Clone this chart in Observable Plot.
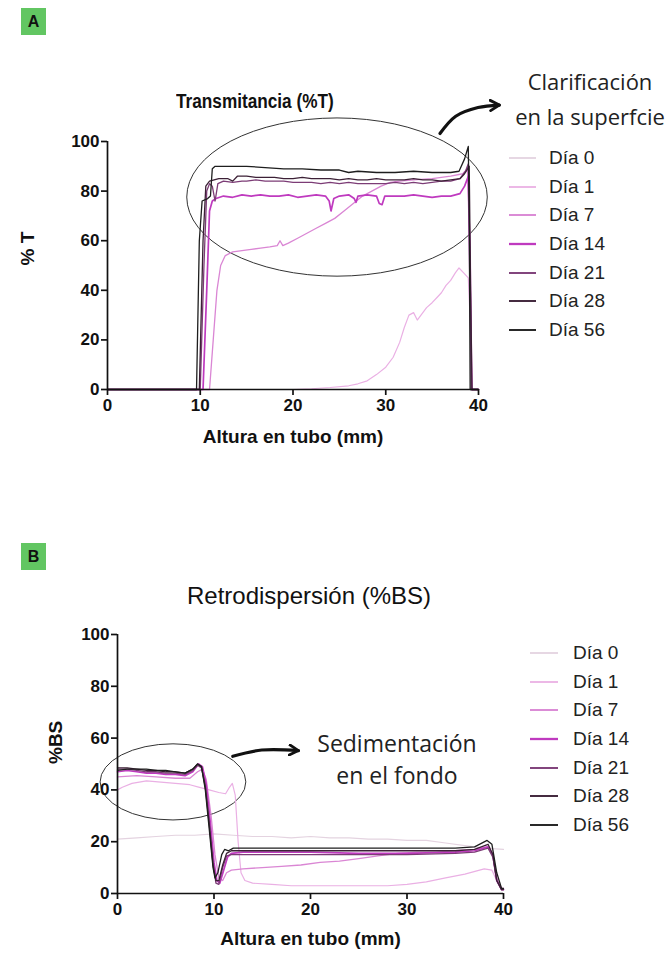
<!DOCTYPE html>
<html>
<head>
<meta charset="utf-8">
<script src="https://cdn.jsdelivr.net/npm/d3@7"></script>
<script src="https://cdn.jsdelivr.net/npm/@observablehq/plot@0.6"></script>
<style>
  body { margin: 0; background: #fff; }
  #root { position: relative; width: 670px; height: 956px; overflow: hidden; font-family: "Liberation Sans", Arial, sans-serif; color: #111; }
  .tag { position: absolute; width: 25px; height: 27px; background: #62c662; font-weight: bold; font-size: 16px; text-align: center; line-height: 27px; }
  .title { position: absolute; white-space: nowrap; transform-origin: 0 0; }
  .anno { position: absolute; white-space: nowrap; transform: translateX(-50%); font-family: "Open Sans", "Noto Sans", sans-serif; color: #222; text-align: center; }
  .legend { position: absolute; }
  .legend .item { display: flex; align-items: center; height: 28.6px; color: #222; }
</style>
</head>
<body>
<div id="root"></div>
<script>
// ---------- DATA ----------
const days = ["Día 0", "Día 1", "Día 7", "Día 14", "Día 21", "Día 28", "Día 56"];
const dayColors = ["#e4d3e0", "#eab0e4", "#da86d4", "#bf3abf", "#7c3c76", "#3c2036", "#1e1e1e"];
const dayWidths = [1.2, 1.2, 1.3, 1.7, 1.3, 1.3, 1.3];
const xTicks = [0, 10, 20, 30, 40];
const yTicks = [0, 20, 40, 60, 80, 100];

// Panel A: Transmitancia (%T) vs altura en tubo (mm)
const tDay0 = [[0, 0], [40, 0]];
const tDay1 = [[0, 0], [20, 0], [22, 0.3], [24, 0.8], [26, 1.5], [27, 2.3], [28, 3.5], [29, 6], [30, 9], [30.8, 13], [31.5, 19], [32, 25], [32.5, 30], [33, 31], [33.4, 28], [33.8, 30], [34.4, 33], [35, 35], [35.5, 37], [36, 39], [36.5, 42], [37, 44], [37.5, 47], [37.9, 49], [38.4, 47], [38.9, 45], [39.2, 20], [39.35, 0], [40, 0]];
const tDay7 = [[0, 0], [11.0, 0], [11.4, 20], [11.8, 40], [12.2, 50], [12.7, 54], [13.5, 55.5], [14.5, 56], [15.5, 56.5], [16.5, 57], [17.5, 57.5], [18.3, 58], [18.6, 60], [18.9, 58], [19.5, 59], [20.5, 61], [21.5, 63], [22.5, 65], [23.5, 67], [24.5, 69], [25.5, 72], [26.5, 75], [27.5, 78], [28.5, 80], [29.5, 82], [30.5, 83.5], [31.5, 84], [33, 84.5], [35, 85], [37, 86], [38.3, 87], [38.8, 89], [39.1, 60], [39.3, 0], [40, 0]];
const tDay14 = [[0, 0], [10.3, 0], [10.7, 40], [11.0, 72], [11.3, 76], [11.7, 77], [12.5, 78], [13.5, 77.5], [14.5, 78.5], [15.5, 78], [16.5, 78.5], [17.5, 78], [18.5, 78], [19.5, 78.5], [20.5, 77.5], [21.5, 78], [22.5, 78.5], [23.5, 78], [23.9, 76], [24.1, 72], [24.4, 77], [25, 78], [26, 78.5], [26.6, 77], [26.8, 75.5], [27, 78], [28, 78.5], [29, 78], [29.3, 75], [29.6, 74.5], [29.9, 78], [31, 78], [32, 78], [33, 78.5], [34, 78], [35, 77.5], [36, 78], [37, 78], [38, 79], [38.5, 82], [38.9, 86], [39.1, 40], [39.25, 0], [40, 0]];
const tDay21 = [[0, 0], [10.0, 0], [10.4, 50], [10.7, 80], [11.0, 83], [11.3, 82], [11.6, 76], [11.9, 83], [12.5, 84], [13.5, 83.5], [14.5, 84], [15, 84], [16, 84.5], [17, 84], [18, 84], [19, 84], [20, 83.5], [21, 83.5], [22, 83.5], [23, 83], [24, 83.5], [25, 83], [26, 83.5], [27, 83], [28, 83], [29, 83], [30, 83], [31, 83.5], [32, 83], [33, 83.5], [34, 83], [35, 83.5], [36, 84], [37, 84], [38, 85], [38.6, 88], [38.9, 91], [39.1, 50], [39.25, 0], [40, 0]];
const tDay28 = [[0, 0], [9.9, 0], [10.3, 60], [10.6, 82], [11, 84], [12, 85], [13, 85], [13.5, 84], [14, 86], [15, 86], [16, 85.5], [17, 85.5], [18, 85.5], [19, 85], [20, 85], [21, 85.5], [22, 85], [23, 85], [24, 85], [25, 84.5], [26, 85], [27, 84.5], [28, 84.5], [29, 85], [30, 84.5], [31, 84.5], [32, 84.5], [33, 85], [34, 84.5], [35, 84.5], [36, 84], [37, 84.5], [38, 85], [38.5, 87], [39, 90], [39.15, 40], [39.3, 0], [40, 0]];
const tDay56 = [[0, 0], [9.6, 0], [9.9, 60], [10.2, 76], [10.8, 77], [11.1, 78], [11.3, 89], [11.6, 90], [13, 90], [15, 90], [17, 89.5], [19, 89], [21, 89], [23, 88.5], [25, 88.5], [26, 87.5], [27, 88], [29, 87.5], [31, 87.5], [33, 88], [35, 87.5], [37, 87.5], [37.9, 88], [38.5, 93], [38.9, 98], [39.0, 70], [39.1, 0], [40, 0]];

// Panel B: Retrodispersión (%BS) vs altura en tubo (mm)
const bDay0 = [[0, 21], [2, 21.5], [4, 22], [6, 22.5], [8, 22.5], [10, 23], [12, 22.5], [14, 22], [16, 22], [18, 21.5], [20, 22], [22, 21.5], [24, 21.5], [26, 21], [28, 21], [30, 20.5], [32, 20.5], [34, 19.5], [36, 18.5], [38, 17.5], [40, 17]];
const bDay1 = [[0, 40], [0.5, 41], [1.5, 42.5], [3, 43.5], [4.5, 43], [6, 42.5], [7.5, 42], [8.5, 41], [9.5, 40], [10.5, 39], [11.2, 38.5], [11.6, 41], [11.9, 42.5], [12.2, 38], [12.5, 20], [12.8, 8], [13.2, 5], [14, 4], [16, 3.5], [18, 3], [20, 3], [22, 3], [24, 3], [26, 3], [28, 3], [30, 3.5], [32, 4.5], [34, 6], [36, 7.5], [38, 9.5], [38.8, 9], [39.3, 5], [39.8, 2], [40, 2]];
const bDay7 = [[0, 45], [2, 45.5], [4, 45], [6, 44.5], [7.5, 44.5], [8.3, 47], [8.8, 48], [9.2, 44], [9.7, 30], [10.1, 15], [10.5, 6], [10.9, 5], [11.3, 8], [11.8, 9], [13, 9.5], [15, 10], [17, 10.5], [19, 11], [21, 12], [23, 12.5], [25, 13.5], [27, 14.5], [29, 15.5], [31, 16], [33, 16], [35, 16.5], [37, 17], [38.3, 18], [38.8, 16], [39.3, 6], [39.8, 2], [40, 2]];
const bDay14 = [[0, 47], [1, 47.5], [2, 47], [3, 46.5], [4, 46.5], [5, 46], [6, 46], [7, 45.5], [7.8, 47], [8.4, 50], [8.8, 49], [9.2, 42], [9.6, 28], [10, 12], [10.3, 5], [10.6, 4], [11, 9], [11.4, 14], [11.8, 15.5], [13, 16], [15, 16], [20, 16], [25, 15.5], [30, 15.5], [35, 16], [37, 16.5], [38.4, 18], [38.9, 15], [39.3, 5], [39.8, 1.5], [40, 1.5]];
const bDay21 = [[0, 48], [1, 48], [2, 47.5], [3, 47], [4, 47], [5, 46.5], [6, 46.5], [7, 46], [7.8, 47.5], [8.3, 49.5], [8.7, 48.5], [9.1, 42], [9.5, 28], [9.9, 12], [10.2, 4], [10.5, 3.5], [10.9, 10], [11.3, 14.5], [11.8, 15], [13, 15], [20, 15], [25, 15], [30, 15], [35, 15.5], [37, 16], [38.4, 17.5], [38.9, 14], [39.3, 5], [39.8, 1.5], [40, 1.5]];
const bDay28 = [[0, 48.5], [1, 48.5], [2, 48], [3, 47.5], [4, 47.5], [5, 47], [6, 47], [7, 46.5], [7.8, 48], [8.3, 50], [8.7, 49], [9.1, 41], [9.5, 27], [9.9, 11], [10.2, 5], [10.5, 5], [10.9, 11], [11.3, 15.5], [11.8, 16.5], [13, 16.5], [20, 16.5], [25, 16.5], [30, 16.5], [35, 16.5], [37, 17], [38.4, 19], [38.9, 15], [39.3, 5], [39.8, 1.5], [40, 1.5]];
const bDay56 = [[0, 47.5], [1, 48], [2, 48], [3, 48], [4, 47.5], [5, 47.5], [6, 47], [7, 46.5], [7.8, 48], [8.3, 50], [8.7, 49], [9.1, 40], [9.5, 25], [9.9, 10], [10.1, 6], [10.4, 8], [10.8, 15], [11.1, 17], [11.5, 16.5], [12, 17.5], [15, 17.5], [20, 17.5], [25, 17.5], [30, 17.5], [35, 17.5], [37, 18], [38.3, 20.5], [38.8, 19], [39.3, 8], [39.8, 2], [40, 2]];

const tSeries = [tDay0, tDay1, tDay7, tDay14, tDay21, tDay28, tDay56];
const bSeries = [bDay0, bDay1, bDay7, bDay14, bDay21, bDay28, bDay56];

// ---------- HELPERS ----------
const toRows = (series) => series.flatMap((pts, i) => pts.map(([mm, v]) => ({day: days[i], mm, v})));
const root = document.getElementById("root");

function el(tag, cls, style, text) {
  const e = document.createElement(tag);
  if (cls) e.className = cls;
  Object.assign(e.style, style || {});
  if (text != null) e.textContent = text;
  root.appendChild(e);
  return e;
}

function centeredTitle(text, cx, top, style, scaleX) {
  const e = el("div", "title", Object.assign({left: "0px", top: top + "px"}, style), text);
  const w = e.getBoundingClientRect().width;
  e.style.left = (cx - w * scaleX / 2) + "px";
  e.style.transform = `scaleX(${scaleX})`;
  return e;
}

function annotation(ell, arrowPts, id) {
  return (index, {x, y}) => {
    const g = d3.create("svg:g");
    g.append("defs").append("marker").attr("id", id).attr("viewBox", "0 0 10 10").attr("refX", 8).attr("refY", 5)
      .attr("markerWidth", 4).attr("markerHeight", 4).attr("orient", "auto")
      .append("path").attr("d", "M1,1 L8,5 L1,9").attr("fill", "none").attr("stroke", "#111").attr("stroke-width", 2.2)
      .attr("stroke-linecap", "round").attr("stroke-linejoin", "round");
    g.append("ellipse")
      .attr("cx", x(ell.cx)).attr("cy", y(ell.cy))
      .attr("rx", Math.abs(x(ell.cx + ell.rx) - x(ell.cx)))
      .attr("ry", Math.abs(y(ell.cy + ell.ry) - y(ell.cy)))
      .attr("fill", "none").attr("stroke", "#333").attr("stroke-width", 1);
    const line = d3.line().x(d => x(d[0])).y(d => y(d[1])).curve(d3.curveCatmullRom);
    g.append("path").attr("d", line(arrowPts)).attr("fill", "none").attr("stroke", "#111")
      .attr("stroke-width", 3.2).attr("stroke-linecap", "round").attr("marker-end", `url(#${id})`);
    return g.node();
  };
}

function makePlot({series, top, height, marginTop, marginBottom, marginLeft, marginRight, yLabel, yLabelDx, xLabelDy, ell, arrowPts, id}) {
  const rows = toRows(series);
  const plot = Plot.plot({
    width: 670,
    height,
    marginTop, marginBottom, marginLeft, marginRight,
    style: {background: "transparent", fontFamily: "'Liberation Sans', Arial, sans-serif", color: "#111", overflow: "visible"},
    x: {domain: [0, 40]},
    y: {domain: [0, 100]},
    color: {domain: days, range: dayColors},
    marks: [
      annotation(ell, arrowPts, id),
      ...days.map((d, i) => Plot.line(rows.filter(r => r.day === d), {x: "mm", y: "v", stroke: dayColors[i], strokeWidth: dayWidths[i], strokeLinejoin: "round"})),
      Plot.ruleY([0], {stroke: "#111", strokeWidth: 1.7}),
      Plot.ruleX([0], {stroke: "#111", strokeWidth: 1.7}),
      Plot.axisX({ticks: xTicks, tickSize: 6, tickPadding: 3, fontSize: 17, fontWeight: "bold", strokeWidth: 1.7, label: null, tickFormat: d => d}),
      Plot.axisY({ticks: yTicks, tickSize: 6, tickPadding: 2, fontSize: 17, fontWeight: "bold", strokeWidth: 1.7, label: null, tickFormat: d => d}),
      Plot.text(["Altura en tubo (mm)"], {frameAnchor: "bottom", dy: xLabelDy, fontSize: 19, fontWeight: "bold", fill: "#111"}),
      Plot.text([yLabel], {frameAnchor: "left", dx: yLabelDx, rotate: -90, fontSize: 19, fontWeight: "bold", fill: "#111"})
    ]
  });
  plot.style.position = "absolute";
  plot.style.left = "0px";
  plot.style.top = top + "px";
  root.appendChild(plot);
  return plot;
}

function legend(left, top, lineW, gap, fontSize) {
  const box = el("div", "legend", {left: left + "px", top: top + "px", fontSize: fontSize + "px"});
  days.forEach((d, i) => {
    const item = document.createElement("div");
    item.className = "item";
    item.innerHTML = `<svg width="${lineW}" height="6" style="margin-right:${gap}px"><line x1="0" x2="${lineW}" y1="3" y2="3" stroke="${dayColors[i]}" stroke-width="${dayWidths[i] + 0.6}"/></svg><span>${d}</span>`;
    box.appendChild(item);
  });
}

// ---------- PANEL A ----------
el("div", "tag", {left: "21px", top: "8px"}, "A");
centeredTitle("Transmitancia (%T)", 255, 90, {fontSize: "20px", fontWeight: "bold"}, 0.86);
el("div", "anno", {left: "590px", top: "64px", fontSize: "22px", lineHeight: "35px"}).innerHTML = "Clarificación<br>en la superfcie";
makePlot({
  series: tSeries, top: 40, height: 420, marginTop: 101, marginBottom: 71, marginLeft: 107, marginRight: 192,
  yLabel: "% T", yLabelDx: -80, xLabelDy: 53,
  ell: {cx: 24.8, cy: 77.4, rx: 16.2, ry: 31.9},
  arrowPts: [[35.9, 103.0], [37.6, 110.0], [40.0, 113.5], [42.3, 114.5]],
  id: "arrA"
});
legend(509, 144, 27, 13, 19);

// ---------- PANEL B ----------
el("div", "tag", {left: "21px", top: "543px"}, "B");
centeredTitle("Retrodispersión (%BS)", 309, 582, {fontSize: "24px"}, 1);
el("div", "anno", {left: "397px", top: "727px", fontSize: "23px", lineHeight: "32px"}).innerHTML = "Sedimentación<br>en el fondo";
makePlot({
  series: bSeries, top: 610, height: 346, marginTop: 24, marginBottom: 63, marginLeft: 117, marginRight: 167,
  yLabel: "%BS", yLabelDx: -62, xLabelDy: 51,
  ell: {cx: 5.8, cy: 42.9, rx: 7.55, ry: 14.7},
  arrowPts: [[12.0, 52.8], [15.0, 55.2], [18.8, 55.0]],
  id: "arrB"
});
legend(530, 639, 28, 15, 19);
</script>
</body>
</html>
